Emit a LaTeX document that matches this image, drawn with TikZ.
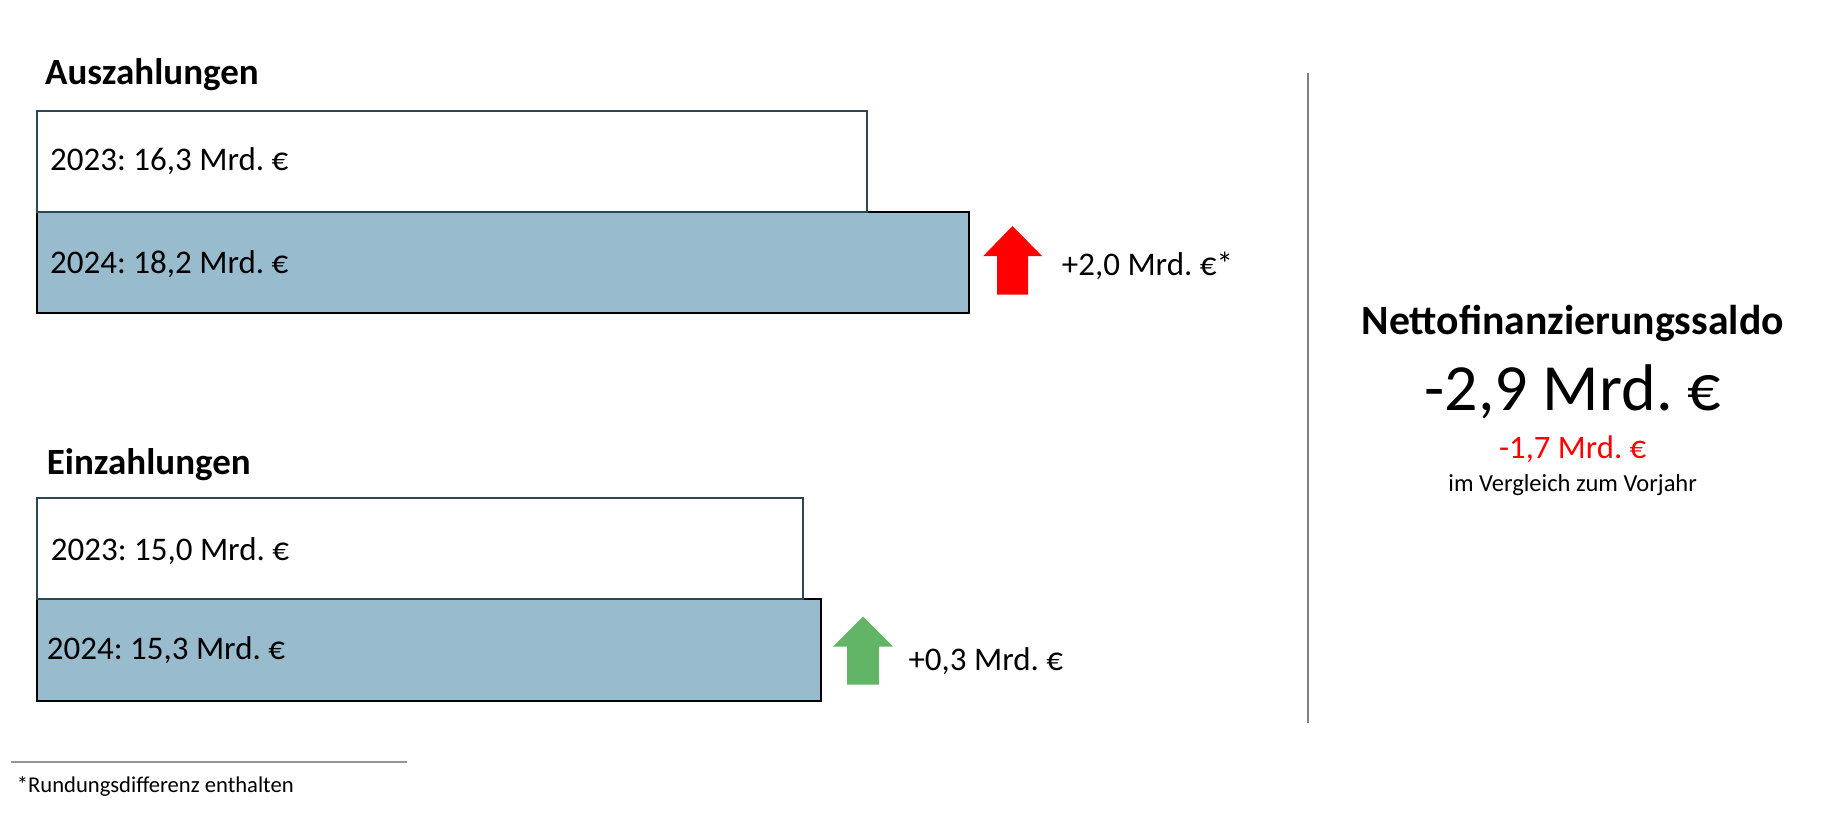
\documentclass[tikz,border=0pt]{standalone}
\usepackage{fontspec}
\setmainfont{Carlito}
\frenchspacing
\definecolor{slateb}{RGB}{44,70,84}
\definecolor{barfill}{RGB}{152,187,205}
\definecolor{upred}{RGB}{255,0,0}
\definecolor{upgreen}{RGB}{98,180,102}
\definecolor{divgray}{RGB}{128,128,128}
\definecolor{footgray}{RGB}{150,150,150}
\begin{document}
\begin{tikzpicture}[x=1pt,y=-1pt,
  bar/.style={inner sep=0pt,outer sep=0pt,anchor=north west,line width=2pt},
  bar23/.style={bar,draw=slateb,fill=white},
  bar24/.style={bar,draw=black,fill=barfill},
  lbl/.style={inner sep=0pt,anchor=base west,font=\fontsize{33}{40}\selectfont},
  ttl/.style={inner sep=0pt,anchor=base west,font=\fontsize{37}{44}\selectfont\bfseries},
  ctr/.style={inner sep=0pt,anchor=base}]
\useasboundingbox[fill=white] (0,0) rectangle (1821,823);
% Auszahlungen
\node[ttl] (taus) at (45,84.3) {Auszahlungen};
\node[bar24,minimum width=931.7pt,minimum height=100.7pt] (a24) at (37.3,212) {};
\node[bar23,minimum width=829.7pt,minimum height=101.3pt] (a23) at (37.3,110.7) {};
\node[lbl] (la23) at (50,170.7) {2023: 16,3 Mrd. €};
\node[lbl] (la24) at (50,273) {2024: 18,2 Mrd. €};
\fill[upred] (1012.5,226) -- (1042,256) -- (1028,256) -- (1028,294.7) -- (997,294.7) -- (997,256) -- (983.3,256) -- cycle;
\node[lbl] (da) at (1061.7,275) {+2,0 Mrd. €*};
% Einzahlungen
\node[ttl] (tein) at (46.7,474.7) {Einzahlungen};
\node[bar24,minimum width=783.7pt,minimum height=101.7pt] (e24) at (37.3,599) {};
\node[bar23,minimum width=765.7pt,minimum height=101pt] (e23) at (37.3,498) {};
\node[lbl] (le23) at (50.7,560.7) {2023: 15,0 Mrd. €};
\node[lbl] (le24) at (46.7,659) {2024: 15,3 Mrd. €};
\fill[upgreen] (863,616.7) -- (893,646.7) -- (879,646.7) -- (879,684.7) -- (847,684.7) -- (847,646.7) -- (833,646.7) -- cycle;
\node[lbl] (de) at (908.3,670) {+0,3 Mrd. €};
% divider
\coordinate (dtop) at (1307.7,73);
\coordinate (dbot) at (1307.7,722.7);
\draw[divgray,line width=2pt] (dtop) -- (dbot);
% right panel
\node[ctr,font=\fontsize{41.7}{48}\selectfont\bfseries] (nfs) at (1572.7,334) {Nettofinanzierungssaldo};
\node[ctr,font=\fontsize{66}{78}\selectfont] (val) at (1572.7,410) {-2,9 Mrd. €};
\node[ctr,font=\fontsize{32.7}{39}\selectfont,text=upred] (chg) at (1572.7,458.3) {-1,7 Mrd. €};
\node[ctr,font=\fontsize{24.5}{29}\selectfont] (cmp) at (1572.7,491.7) {im Vergleich zum Vorjahr};
% footnote
\coordinate (fl) at (11,762);
\coordinate (fr) at (407.3,762);
\draw[footgray,line width=1.3pt] (fl) -- (fr);
\node[inner sep=0pt,anchor=base west,font=\fontsize{22.6}{27}\selectfont] (fn) at (16.7,792.7) {*Rundungsdifferenz enthalten};
\end{tikzpicture}
\end{document}
